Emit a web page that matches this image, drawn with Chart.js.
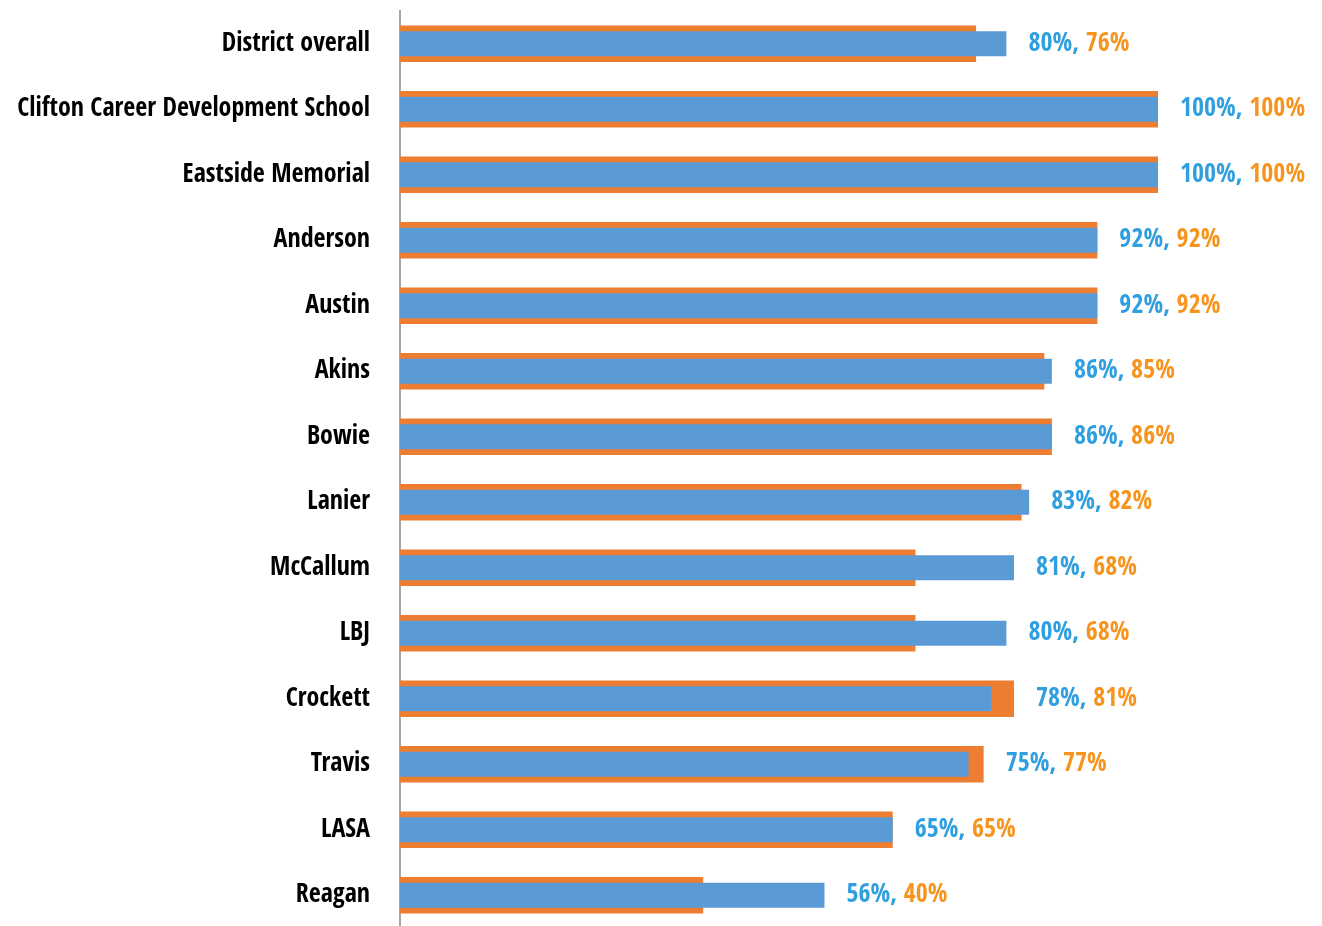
<!DOCTYPE html>
<html>
<head>
<meta charset="utf-8">
<script src="https://cdn.jsdelivr.net/npm/chart.js@4"></script>
<style>
  html, body { margin: 0; padding: 0; background: #fff; overflow: hidden; }
  #wrap { width: 1322px; height: 928px; position: relative; }
</style>
</head>
<body>
<div id="wrap"><canvas id="schoolChart"></canvas></div>
<script>
const schools = ['District overall', 'Clifton Career Development School', 'Eastside Memorial', 'Anderson', 'Austin',
  'Akins', 'Bowie', 'Lanier', 'McCallum', 'LBJ', 'Crockett', 'Travis', 'LASA', 'Reagan'];
const blueValues = [80, 100, 100, 92, 92, 86, 86, 83, 81, 80, 78, 75, 65, 56];
const orangeValues = [76, 100, 100, 92, 92, 85, 86, 82, 68, 68, 81, 77, 65, 40];

const FONT = "'Open Sans Condensed', 'Liberation Sans Narrow', sans-serif";

// draws "80%, 76%" after the longer bar, two colours
const pairLabels = {
  id: 'pairLabels',
  afterDatasetsDraw(chart) {
    const ctx = chart.ctx;
    const x = chart.scales.x;
    const meta = chart.getDatasetMeta(0);
    ctx.save();
    ctx.font = 'bold 26px ' + FONT;
    ctx.textBaseline = 'middle';
    ctx.textAlign = 'left';
    schools.forEach((s, i) => {
      const y = meta.data[i].y;
      let px = x.getPixelForValue(Math.max(blueValues[i], orangeValues[i])) + 22;
      const a = blueValues[i] + '%, ';
      ctx.fillStyle = '#2f9fe0';
      ctx.fillText(a, px, y);
      px += ctx.measureText(a).width;
      ctx.fillStyle = '#f7941d';
      ctx.fillText(orangeValues[i] + '%', px, y);
    });
    ctx.restore();
  }
};

new Chart(document.getElementById('schoolChart'), {
  type: 'bar',
  data: {
    labels: schools,
    datasets: [
      {
        label: 'Blue',
        data: blueValues,
        backgroundColor: '#5b9bd5',
        barPercentage: 0.38,
        categoryPercentage: 1,
        grouped: false
      },
      {
        label: 'Orange',
        data: orangeValues,
        backgroundColor: '#ed7d31',
        barPercentage: 0.56,
        categoryPercentage: 1,
        grouped: false
      }
    ]
  },
  options: {
    indexAxis: 'y',
    responsive: true,
    maintainAspectRatio: false,
    animation: false,
    layout: { padding: { top: 11, right: 164, bottom: 0, left: 0 } },
    plugins: {
      legend: { display: false },
      tooltip: { enabled: false }
    },
    scales: {
      x: {
        display: false,
        min: 0,
        max: 100
      },
      y: {
        afterFit(scale) {
          scale.width = 400;
          scale.paddingTop = 0;
          scale.paddingBottom = 0;
        },
        grid: { display: false, drawTicks: false },
        border: { display: true, color: '#a6a6a6', width: 2 },
        ticks: {
          color: '#000',
          padding: 30,
          font: { family: FONT, size: 26, weight: 'bold' }
        }
      }
    }
  },
  plugins: [pairLabels]
});
</script>
</body>
</html>
